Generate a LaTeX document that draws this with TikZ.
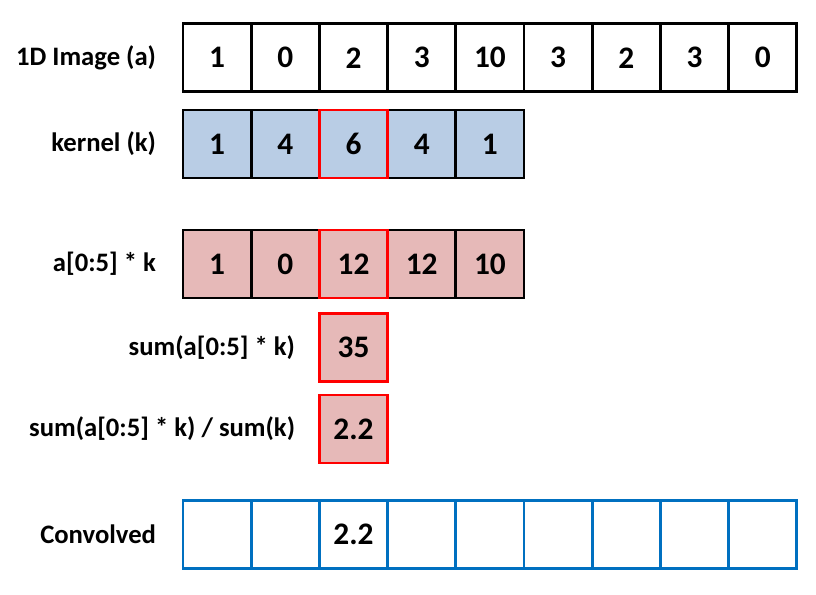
\documentclass[tikz,border=0pt]{standalone}
\usepackage{fontspec}
\setmainfont{Carlito}
\usepackage{tikz}
\usepackage{color}
\definecolor{kblue}{HTML}{B9CDE5}
\definecolor{kpink}{HTML}{E6B9B8}
\definecolor{cblue}{HTML}{0070C0}
\begin{document}
\begin{tikzpicture}[x=0.75pt,y=-0.75pt]
	\tikzstyle{every node}+=[inner sep=0pt, outer sep=0pt, font=\fontsize{20}{22}\selectfont\bfseries]
	\tikzstyle{cell}=[draw=black, line width=2.2pt, minimum width=51.15pt, minimum height=51pt, font=\fontsize{23.5}{26}\selectfont\bfseries]
	\tikzstyle{kcell}=[cell, fill=kblue]
	\tikzstyle{pcell}=[cell, fill=kpink]
	\tikzstyle{ccell}=[cell, draw=cblue]
	\tikzstyle{hl}=[draw=red, line width=2.2pt]
	\tikzstyle{lbl}=[anchor=east]
	\useasboundingbox (0,0) rectangle (816,594);
	% image row
	\node [lbl] (la) at (156,57.8) {1D Image (a)};
	\node [cell] (a0) at (217.1,57.8) {1};
	\node [cell] (a1) at (285.3,57.8) {0};
	\node [cell] (a2) at (353.5,57.8) {2};
	\node [cell] (a3) at (421.7,57.8) {3};
	\node [cell] (a4) at (489.9,57.8) {10};
	\node [cell] (a5) at (558.1,57.8) {3};
	\node [cell] (a6) at (626.3,57.8) {2};
	\node [cell] (a7) at (694.5,57.8) {3};
	\node [cell] (a8) at (762.7,57.8) {0};
	% kernel row
	\node [lbl] (lk) at (156,144) {kernel (k)};
	\node [kcell] (k0) at (217.1,144) {1};
	\node [kcell] (k1) at (285.3,144) {4};
	\node [kcell] (k2) at (353.5,144) {6};
	\node [kcell] (k3) at (421.7,144) {4};
	\node [kcell] (k4) at (489.9,144) {1};
	% products
	\node [lbl] (lp) at (156,264) {a[0:5] * k};
	\node [pcell] (p0) at (217.1,264) {1};
	\node [pcell] (p1) at (285.3,264) {0};
	\node [pcell] (p2) at (353.5,264) {12};
	\node [pcell] (p3) at (421.7,264) {12};
	\node [pcell] (p4) at (489.9,264) {10};
	% sum and normalised sum
	\node [lbl] (ls) at (295,347.8) {sum(a[0:5] * k)};
	\node [pcell, hl] (s) at (353.5,347.8) {35};
	\node [lbl] (ln) at (295,429) {sum(a[0:5] * k) / sum(k)};
	\node [pcell, hl] (n) at (353.5,429) {2.2};
	% convolved row
	\node [lbl] (lc) at (156,534.5) {Convolved};
	\node [ccell] (c0) at (217.1,534.5) {};
	\node [ccell] (c1) at (285.3,534.5) {};
	\node [ccell] (c2) at (353.5,534.5) {2.2};
	\node [ccell] (c3) at (421.7,534.5) {};
	\node [ccell] (c4) at (489.9,534.5) {};
	\node [ccell] (c5) at (558.1,534.5) {};
	\node [ccell] (c6) at (626.3,534.5) {};
	\node [ccell] (c7) at (694.5,534.5) {};
	\node [ccell] (c8) at (762.7,534.5) {};
	% highlight of the centre cells
	\draw [hl] (k2.south west) rectangle (k2.north east);
	\draw [hl] (p2.south west) rectangle (p2.north east);
\end{tikzpicture}
\end{document}
